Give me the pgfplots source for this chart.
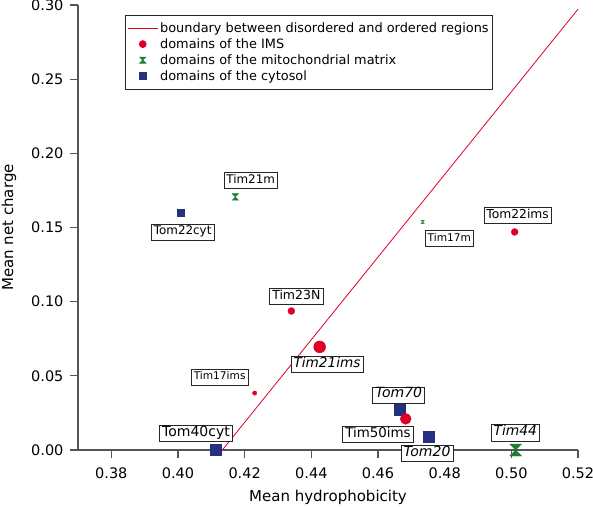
\documentclass[border=0pt]{standalone}
\usepackage{pgfplots}
\pgfplotsset{compat=1.18}
\usepackage{fontspec}
\setmainfont{DejaVu Sans}
\definecolor{imsred}{RGB}{222,0,38}
\definecolor{cytblue}{RGB}{38,48,128}
\definecolor{matgreen}{RGB}{30,128,50}
\definecolor{axgray}{RGB}{85,85,85}
\pgfdeclareplotmark{hourglass}{%
  \pgfpathmoveto{\pgfqpoint{-\pgfplotmarksize}{\pgfplotmarksize}}%
  \pgfpathlineto{\pgfqpoint{\pgfplotmarksize}{\pgfplotmarksize}}%
  \pgfpathlineto{\pgfqpoint{-\pgfplotmarksize}{-\pgfplotmarksize}}%
  \pgfpathlineto{\pgfqpoint{\pgfplotmarksize}{-\pgfplotmarksize}}%
  \pgfpathclose
  \pgfusepathqfillstroke}
\pgfplotsset{
  linelegend/.style={legend image code/.code={\draw[##1] (0pt,0pt) -- (30pt,0pt);}},
  marklegend/.style={legend image code/.code={\draw[##1] plot coordinates {(15pt,0pt)};}},
}
\pgfplotstableread{
x y s
0.5010 0.1470 3.5
0.4340 0.0937 3.5
0.4425 0.0695 6.0
0.4230 0.0384 2.2
0.4683 0.0210 5.5
}\imsdata
\pgfplotstableread{
x y s
0.4172 0.1706 3.3
0.4734 0.1537 1.7
0.5013 0.0000 6.0
}\matdata
\pgfplotstableread{
x y s
0.4007 0.1600 3.5
0.4112 0.0000 5.5
0.4665 0.0270 5.5
0.4752 0.0088 5.5
}\cytdata
\tikzset{lab/.style={draw=black!85, fill=white, line width=0.7pt, inner xsep=2.5pt, inner ysep=3.2pt, text height=0.76em, text depth=0.22em}}
\newcommand{\fs}[1]{\fontsize{#1}{#1}\selectfont}
\begin{document}
\begin{tikzpicture}
\begin{axis}[
  scale only axis, width=500pt, height=445pt,
  xmin=0.37, xmax=0.52, ymin=0, ymax=0.30,
  clip=false,
  axis lines=left,
  axis line style={-, axgray, line width=1.1pt},
  xtick={0.38,0.40,0.42,0.44,0.46,0.48,0.50,0.52},
  ytick={0,0.05,0.10,0.15,0.20,0.25,0.30},
  tick align=outside, major tick length=8pt,
  tick style={axgray, line width=1.1pt},
  /pgf/number format/assume math mode=true,
  /pgf/number format/.cd, fixed, fixed zerofill, precision=2, /pgfplots/.cd,
  tick label style={font=\fs{14.5}},
  x tick label style={yshift=-6.5pt},
  y tick label style={xshift=-3pt},
  xlabel={Mean hydrophobicity}, ylabel={Mean net charge},
  label style={font=\fs{15}},
  x label style={yshift=-4.5pt},
  y label style={yshift=8pt},
  legend style={at={(0.094,0.9775)}, anchor=north west, draw=black!85, line width=0.7pt,
    font=\fs{12.9}, inner xsep=2pt, inner ysep=5pt, row sep=0.8pt, cells={anchor=west}},
]
\addplot[imsred, line width=0.8pt, linelegend]
  coordinates {(0.4133,0) (0.52,0.2972)};
\addlegendentry{boundary between disordered and ordered regions}
\addlegendimage{only marks, mark=*, imsred, mark size=3.5pt, marklegend}
\addlegendentry{domains of the IMS}
\addlegendimage{only marks, mark=hourglass, matgreen, mark size=3pt, marklegend}
\addlegendentry{domains of the mitochondrial matrix}
\addlegendimage{only marks, mark=square*, cytblue, mark size=3.5pt, marklegend}
\addlegendentry{domains of the cytosol}

\addplot[forget plot, scatter, only marks, mark=hourglass, line width=0.3pt,
  scatter/use mapped color={draw=matgreen, fill=matgreen},
  visualization depends on={\thisrow{s}\as\ms},
  scatter/@pre marker code/.append style={/tikz/mark size=\ms pt}] table[x=x,y=y] {\matdata};
\addplot[forget plot, scatter, only marks, mark=square*, line width=0.3pt,
  scatter/use mapped color={draw=cytblue, fill=cytblue},
  visualization depends on={\thisrow{s}\as\ms},
  scatter/@pre marker code/.append style={/tikz/mark size=\ms pt}] table[x=x,y=y] {\cytdata};
\addplot[forget plot, scatter, only marks, mark=*, line width=0.3pt,
  scatter/use mapped color={draw=imsred, fill=imsred},
  visualization depends on={\thisrow{s}\as\ms},
  scatter/@pre marker code/.append style={/tikz/mark size=\ms pt}] table[x=x,y=y] {\imsdata};

\node[lab, font=\fs{11.9}] at (axis cs:0.4218,0.1817) {Tim21m};
\node[lab, font=\fs{11.9}] at (axis cs:0.4014,0.1470) {Tom22cyt};
\node[lab, font=\fs{10.6}] at (axis cs:0.4814,0.1426) {Tim17m};
\node[lab, font=\fs{12.3}] at (axis cs:0.5019,0.1581) {Tom22ims};
\node[lab, font=\fs{12.5}] at (axis cs:0.4355,0.1035) {Tim23N};
\node[lab, font=\fs{13.6}\itshape] at (axis cs:0.4447,0.0576) {Tim21ims};
\node[lab, font=\fs{10.6}] at (axis cs:0.4125,0.0492) {Tim17ims};
\node[lab, font=\fs{14}] at (axis cs:0.4054,0.0111) {Tom40cyt};
\node[lab, font=\fs{14}\itshape] at (axis cs:0.4662,0.0371) {Tom70};
\node[lab, font=\fs{13.4}] at (axis cs:0.4600,0.0105) {Tim50ims};
\node[lab, font=\fs{14}\itshape] at (axis cs:0.4747,-0.0024) {Tom20};
\node[lab, font=\fs{13.8}\itshape] at (axis cs:0.5012,0.0115) {Tim44};
\end{axis}
\path (current axis.south west) ++(-78pt,-56pt) coordinate (bl);
\path (current axis.north east) ++(15pt,5pt) coordinate (tr);
\pgfresetboundingbox
\path[use as bounding box] (bl) rectangle (tr);
\end{tikzpicture}
\end{document}
